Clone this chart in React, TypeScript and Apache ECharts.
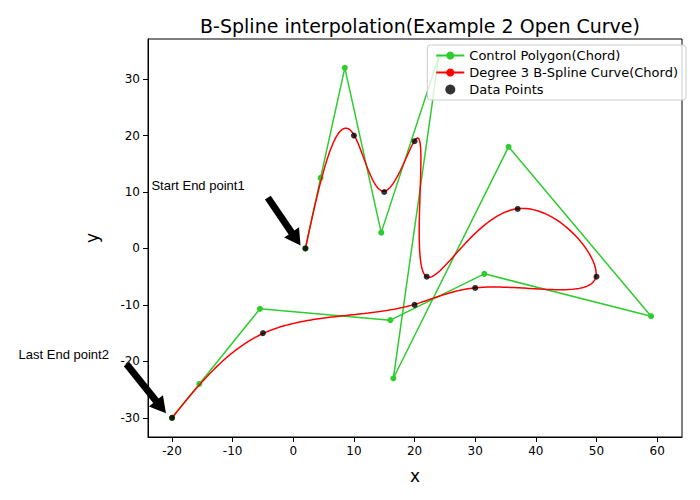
import { useEffect, useRef } from 'react';
import * as echarts from 'echarts';

const dataX = [2, 10, 15, 20, 22, 37, 50, 30, 20, -5, -20];
const dataY = [0, 20, 10, 19, -5, 7, -5, -7, -10, -15, -30];
const ctrlX = [2, 4.5, 8.5, 14.5, 24, 16.5, 35.5, 59, 31.5, 16, -5.5, -15.5, -20];
const ctrlY = [0, 12.5, 32, 2.8, 34, -23, 18, -12, -4.5, -12.7, -10.7, -24, -30];
const xTicks = [-20, -10, 0, 10, 20, 30, 40, 50, 60];
const yTicks = [-30, -20, -10, 0, 10, 20, 30];
const DEGREE = 3;

// chord-length parameters of the data points -> clamped knot vector
const chordKnots = () => {
    const d: number[] = [0];
    for (let i = 1; i < dataX.length; i++) {
        d.push(d[i - 1] + Math.hypot(dataX[i] - dataX[i - 1], dataY[i] - dataY[i - 1]));
    }
    const total = d[d.length - 1];
    const t = d.map((v) => v / total);
    return [0, 0, 0, 0, ...t.slice(1, -1), 1, 1, 1, 1];
};

const deBoor = (u: number, knots: number[]) => {
    const n = ctrlX.length - 1;
    let k = DEGREE;
    while (k < n && !(u >= knots[k] && u < knots[k + 1])) k++;
    if (u >= 1) k = n;
    const px: number[] = [];
    const py: number[] = [];
    for (let j = 0; j <= DEGREE; j++) {
        px.push(ctrlX[j + k - DEGREE]);
        py.push(ctrlY[j + k - DEGREE]);
    }
    for (let r = 1; r <= DEGREE; r++) {
        for (let j = DEGREE; j >= r; j--) {
            const i = j + k - DEGREE;
            const den = knots[i + DEGREE - r + 1] - knots[i];
            const a = den === 0 ? 0 : (u - knots[i]) / den;
            px[j] = (1 - a) * px[j - 1] + a * px[j];
            py[j] = (1 - a) * py[j - 1] + a * py[j];
        }
    }
    return [px[DEGREE], py[DEGREE]];
};

const arrow = (from: number[], to: number[]) => {
    const dx = to[0] - from[0];
    const dy = to[1] - from[1];
    const len = Math.hypot(dx, dy);
    const ux = dx / len, uy = dy / len;
    const nx = -uy, ny = ux;
    const hl = 16, hw = 9, sw = 3.5;
    const bx = to[0] - ux * hl, by = to[1] - uy * hl;
    return [
        [from[0] + nx * sw, from[1] + ny * sw],
        [bx + nx * sw, by + ny * sw],
        [bx + nx * hw, by + ny * hw],
        to,
        [bx - nx * hw, by - ny * hw],
        [bx - nx * sw, by - ny * sw],
        [from[0] - nx * sw, from[1] - ny * sw],
    ];
};

const App = () => {
    const chartRef = useRef<HTMLDivElement>(null);

    useEffect(() => {
        if (!chartRef.current) return;
        const chart = echarts.init(chartRef.current, null, { renderer: 'svg' });
        const knots = chordKnots();
        const curve: number[][] = [];
        for (let i = 0; i <= 600; i++) curve.push(deBoor(i / 600, knots));

        const font = 'DejaVu Sans, sans-serif';
        const axisLine = { show: true, onZero: false, lineStyle: { color: '#000' } };
        chart.setOption({
            animation: false,
            backgroundColor: '#fff',
            textStyle: { fontFamily: font },
            title: {
                text: 'B-Spline interpolation(Example 2 Open Curve)',
                left: 415, top: 11, textAlign: 'center',
                textStyle: { fontSize: 19, fontWeight: 'normal', color: '#000', fontFamily: font },
            },
            grid: { left: 148, right: 18, top: 39, bottom: 63, show: true, borderColor: '#000', borderWidth: 1 },
            legend: {
                orient: 'vertical', right: 14, top: 45, itemGap: 4,
                backgroundColor: 'rgba(255,255,255,0.8)', borderColor: '#ccc', borderWidth: 1, borderRadius: 3,
                padding: [4, 8], itemWidth: 28, itemHeight: 10,
                textStyle: { fontSize: 13, color: '#000' },
                data: [
                    'Control Polygon(Chord)',
                    'Degree 3 B-Spline Curve(Chord)',
                    { name: 'Data Points', itemStyle: { color: '#000' } },
                ],
            },
            xAxis: {
                type: 'value', min: -23.96, max: 64.1, name: 'x', nameLocation: 'middle', nameGap: 30,
                nameTextStyle: { fontSize: 17, color: '#000' },
                axisLine, splitLine: { show: false },
                axisTick: { customValues: xTicks, lineStyle: { color: '#000' } },
                axisLabel: { customValues: xTicks, color: '#000', fontSize: 12 },
            },
            yAxis: {
                type: 'value', min: -33.4, max: 37.1, name: 'y', nameLocation: 'middle', nameGap: 48,
                nameTextStyle: { fontSize: 17, color: '#000' },
                axisLine, splitLine: { show: false },
                axisTick: { customValues: yTicks, lineStyle: { color: '#000' } },
                axisLabel: { customValues: yTicks, color: '#000', fontSize: 12 },
            },
            series: [
                {
                    name: 'Control Polygon(Chord)', type: 'line', symbol: 'circle', symbolSize: 6,
                    itemStyle: { color: '#2ecc2e' }, lineStyle: { color: '#2ecc2e', width: 1.5 },
                    data: ctrlX.map((x, i) => [x, ctrlY[i]]), z: 2,
                },
                {
                    name: 'Degree 3 B-Spline Curve(Chord)', type: 'line', showSymbol: false, symbol: 'none',
                    itemStyle: { color: '#ff0000' }, lineStyle: { color: '#ff0000', width: 1.5 },
                    data: curve, z: 3,
                },
                {
                    name: 'Data Points', type: 'scatter', symbolSize: 6, itemStyle: { color: '#000' },
                    data: dataX.map((x, i) => [x, dataY[i]]), z: 4,
                },
            ],
        });

        const px = (p: number[]) => chart.convertToPixel({ gridIndex: 0 }, p) as number[];
        const a1 = arrow(px([-4.2, 9]), px([1.2, 0.5]));
        const a2 = arrow(px([-27.5, -20.5]), px([-21, -29.2]));
        const t1 = px([-23.4, 11.2]);
        const t2 = px([-45.3, -18.8]);
        chart.setOption({
            graphic: [
                { type: 'polygon', shape: { points: a1 }, style: { fill: '#000' } },
                { type: 'polygon', shape: { points: a2 }, style: { fill: '#000' } },
                { type: 'text', x: t1[0], y: t1[1], style: { text: 'Start End point1', fontSize: 13, fill: '#000', font: `13px ${font}`, verticalAlign: 'middle' } },
                { type: 'text', x: t2[0], y: t2[1], style: { text: 'Last End point2', fontSize: 13, fill: '#000', font: `13px ${font}`, verticalAlign: 'middle' } },
            ],
        });

        return () => chart.dispose();
    }, []);

    return <div ref={chartRef} style={{ position: 'fixed', left: 0, top: 0, width: 700, height: 500 }} />;
};

export default App;
